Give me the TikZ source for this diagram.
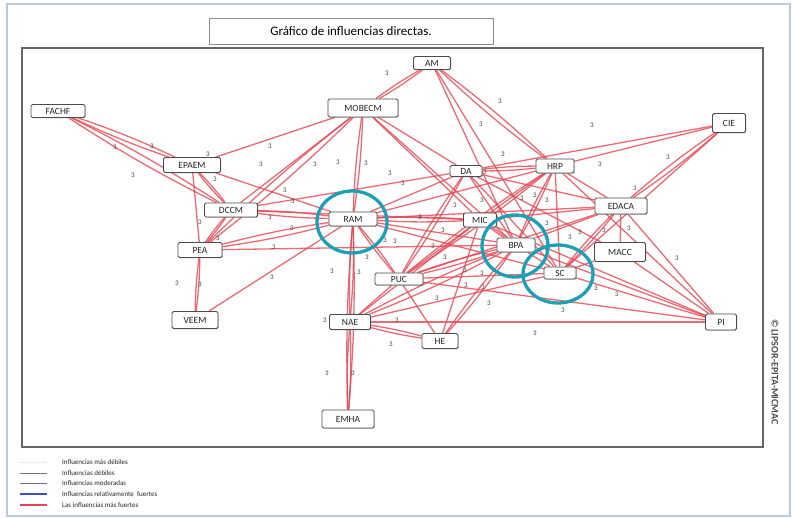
\documentclass[tikz,border=0pt]{standalone}
\usepackage{fontspec}
\setmainfont{Carlito}
\usetikzlibrary{shadows}
\pgfdeclarelayer{background}
\pgfsetlayers{background,main}
\definecolor{edgered}{RGB}{230,70,82}
\definecolor{ringteal}{RGB}{28,160,182}
\definecolor{frameblue}{RGB}{188,204,224}
\definecolor{legblue}{RGB}{60,80,200}
\definecolor{legmod}{RGB}{100,110,150}
\newcommand\biedge[2]{\draw[edge] (#1) to[bend left=3] (#2); \draw[edge] (#1) to[bend right=3] (#2);}
\newcommand\oneedge[2]{\draw[edge] (#1) -- (#2);}
\begin{document}
\begin{tikzpicture}[x=1pt,y=-1pt,
 box/.style={draw=black!70, fill=white, rounded corners=1.5pt, line width=0.8pt, inner sep=0pt,
   font=\fontsize{9.5}{10}\selectfont, text=black!85,
   drop shadow={shadow xshift=0.8pt, shadow yshift=-0.8pt, opacity=0.4}},
 edge/.style={draw=edgered, line width=1.3pt, opacity=0.8},
 lab/.style={font=\fontsize{7}{8}\selectfont, text=black!75, inner sep=0pt},
 ring/.style={draw=ringteal, line width=3.3pt},
 leg/.style={font=\fontsize{7}{8}\selectfont, anchor=west, inner sep=0pt, text=black!85}]
\useasboundingbox (0,0) rectangle (792,518);
\begin{pgfonlayer}{background}
\fill[white] (0,0) rectangle (792,518);
\end{pgfonlayer}
\draw[frameblue, line width=2pt] (7,4) rectangle (790,516);
\draw[black!60, line width=1.3pt] (22,48) rectangle (763,447);
\node[draw=black!45, fill=white, line width=0.6pt, minimum width=284pt, minimum height=26pt,
  font=\fontsize{13}{15}\selectfont] (title) at (351,31) {Gráfico de influencias directas.};

% nodes
\node[box, minimum width=54pt, minimum height=13pt] (FACHF) at (58,111) {FACHF};
\node[box, minimum width=70pt, minimum height=18pt] (MOBECM) at (363,108) {MOBECM};
\node[box, minimum width=37pt, minimum height=13pt] (AM) at (432,63) {AM};
\node[box, minimum width=33pt, minimum height=19pt] (CIE) at (729,123) {CIE};
\node[box, minimum width=38pt, minimum height=14pt] (HRP) at (555,166) {HRP};
\node[box, minimum width=32pt, minimum height=11pt] (DA) at (466,171) {DA};
\node[box, minimum width=57pt, minimum height=15pt] (EPAEM) at (192,165) {EPAEM};
\node[box, minimum width=53pt, minimum height=14pt] (DCCM) at (231,210) {DCCM};
\node[box, minimum width=48pt, minimum height=14pt] (RAM) at (353,219) {RAM};
\node[box, minimum width=44pt, minimum height=15pt] (PEA) at (200,250) {PEA};
\node[box, minimum width=46pt, minimum height=17pt] (VEEM) at (195,320) {VEEM};
\node[box, minimum width=41pt, minimum height=15pt] (NAE) at (350,322) {NAE};
\node[box, minimum width=48pt, minimum height=12pt] (PUC) at (399,279) {PUC};
\node[box, minimum width=33pt, minimum height=14pt] (MIC) at (480,220) {MIC};
\node[box, minimum width=38pt, minimum height=14pt] (BPA) at (516,245) {BPA};
\node[box, minimum width=32pt, minimum height=12pt] (SC) at (560,273) {SC};
\node[box, minimum width=52pt, minimum height=16pt] (EDACA) at (621,206) {EDACA};
\node[box, minimum width=51pt, minimum height=19pt] (MACC) at (620,252) {MACC};
\node[box, minimum width=31pt, minimum height=16pt] (PI) at (721,322) {PI};
\node[box, minimum width=36pt, minimum height=15pt] (HE) at (440,341) {HE};
\node[box, minimum width=52pt, minimum height=18pt] (EMHA) at (348,419) {EMHA};

\begin{pgfonlayer}{background}
\biedge{FACHF}{EPAEM}
\biedge{FACHF}{DCCM}
\oneedge{EPAEM}{MOBECM}
\biedge{EPAEM}{DCCM}
\oneedge{EPAEM}{PEA}
\oneedge{EPAEM}{RAM}
\biedge{MOBECM}{AM}
\oneedge{MOBECM}{DCCM}
\biedge{MOBECM}{PEA}
\biedge{MOBECM}{RAM}
\oneedge{MOBECM}{DA}
\oneedge{MOBECM}{BPA}
\oneedge{MOBECM}{MIC}
\biedge{AM}{HRP}
\oneedge{AM}{BPA}
\oneedge{AM}{SC}
\oneedge{CIE}{DA}
\oneedge{CIE}{HRP}
\biedge{CIE}{EDACA}
\oneedge{CIE}{SC}
\biedge{DA}{HRP}
\oneedge{DA}{RAM}
\oneedge{DA}{DCCM}
\biedge{DA}{PUC}
\oneedge{DA}{BPA}
\oneedge{DA}{SC}
\oneedge{DA}{EDACA}
\oneedge{DA}{MACC}
\oneedge{HRP}{MIC}
\biedge{HRP}{BPA}
\oneedge{HRP}{SC}
\biedge{HRP}{PUC}
\oneedge{HRP}{EDACA}
\oneedge{HRP}{RAM}
\oneedge{HRP}{PI}
\biedge{RAM}{DCCM}
\biedge{RAM}{PEA}
\oneedge{RAM}{VEEM}
\biedge{RAM}{NAE}
\biedge{RAM}{EMHA}
\biedge{RAM}{PUC}
\biedge{RAM}{MIC}
\oneedge{RAM}{BPA}
\oneedge{RAM}{EDACA}
\oneedge{RAM}{SC}
\biedge{DCCM}{PEA}
\oneedge{DCCM}{MIC}
\biedge{PEA}{VEEM}
\oneedge{PEA}{BPA}
\biedge{NAE}{EMHA}
\oneedge{NAE}{PUC}
\biedge{NAE}{BPA}
\oneedge{NAE}{SC}
\oneedge{NAE}{PI}
\biedge{NAE}{HE}
\oneedge{NAE}{MIC}
\oneedge{PUC}{HE}
\biedge{PUC}{BPA}
\oneedge{PUC}{SC}
\oneedge{PUC}{MIC}
\oneedge{PUC}{EDACA}
\oneedge{PUC}{PI}
\biedge{HE}{BPA}
\oneedge{HE}{MIC}
\oneedge{BPA}{SC}
\oneedge{BPA}{EDACA}
\oneedge{BPA}{PI}
\biedge{BPA}{MIC}
\biedge{SC}{EDACA}
\oneedge{SC}{PI}
\oneedge{SC}{MACC}
\oneedge{EDACA}{MACC}
\oneedge{EDACA}{PI}
\oneedge{MACC}{PI}
\oneedge{MIC}{PI}
\oneedge{MIC}{EDACA}
\end{pgfonlayer}

% labels
\foreach \x/\y [count=\i] in {115/147,152/146,133/175,208/154,270/146,261/164,315/164,338/162,366/163,387/73,
 500/101,481/124,592/125,503/154,600/164,668/157,390/173,403/183,485/172,215/179,
 285/190,293/201,270/217,200/222,292/228,218/238,274/247,385/240,395/241,367/257,
 332/271,359/272,272/277,177/283,200/284,325/320,391/344,397/320,437/298,489/303,
 535/333,327/373,353/373,433/246,445/257,443/230,420/217,465/270,482/273,466/285,
 483/287,482/200,522/198,535/195,547/200,547/223,635/188,629/228,604/230,580/232,
 570/237,677/258,596/288,617/294,563/310,455/205}
  \node[lab] (t\i) at (\x,\y) {3};

% rings
\draw[ring] (RAM) ++(-1,3) ellipse [x radius=35, y radius=31];
\draw[ring] (BPA) ++(-1,1) ellipse [x radius=33, y radius=31];
\draw[ring] (SC) ++(-2,1) ellipse [x radius=35, y radius=29];

% watermark
\node[rotate=-90, font=\bfseries\fontsize{10}{11}\selectfont, text=black!70] (wm) at (775,372) {© LIPSOR-EPITA-MICMAC};

% legend
\coordinate (la1) at (20,462); \coordinate (lb1) at (47,462);
\coordinate (la2) at (20,473); \coordinate (lb2) at (47,473);
\coordinate (la3) at (20,483); \coordinate (lb3) at (47,483);
\coordinate (la4) at (20,494); \coordinate (lb4) at (47,494);
\coordinate (la5) at (20,505); \coordinate (lb5) at (47,505);
\draw[black!15, line width=0.6pt, dotted] (la1) -- (lb1);
\draw[black!55, line width=0.6pt] (la2) -- (lb2);
\draw[legmod, line width=0.8pt] (la3) -- (lb3);
\draw[legblue, line width=2pt] (la4) -- (lb4);
\draw[edgered, line width=2pt] (la5) -- (lb5);
\node[leg] (g1) at (62,462) {Influencias más débiles};
\node[leg] (g2) at (62,473) {Influencias débiles};
\node[leg] (g3) at (62,483) {Influencias moderadas};
\node[leg] (g4) at (62,494) {Influencias relativamente\ \ fuertes};
\node[leg] (g5) at (62,505) {Las influencias más fuertes};
\end{tikzpicture}
\end{document}
